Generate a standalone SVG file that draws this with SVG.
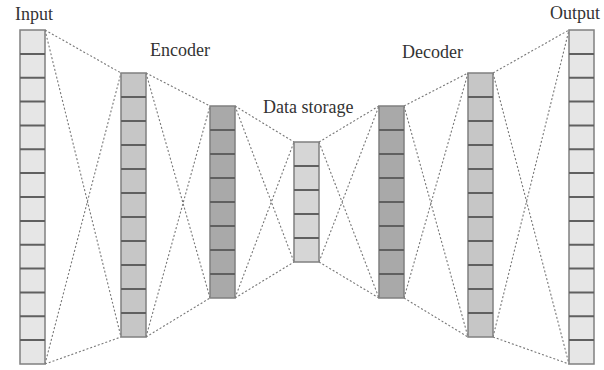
<svg xmlns="http://www.w3.org/2000/svg" width="604" height="370" viewBox="0 0 604 370">
<style>
.lbl{font-family:"Liberation Serif","Times New Roman",serif;font-size:18px;fill:#333}
.col{stroke:#808080;stroke-width:1.5}
.sep{stroke:#606060;stroke-width:2}
.c1{fill:#e6e6e6}.c2{fill:#c6c6c6}.c3{fill:#a9a9a9}.c4{fill:#d6d6d6}
.dash{stroke:#777;stroke-width:1.1;stroke-dasharray:2 2;fill:none}
</style>
<rect width="604" height="370" fill="#fff"/>
<g id="connectors" class="dash">
<path d="M45,30L121,73M45,30L121,337M45,364L121,73M45,364L121,337"/>
<path d="M146,73L210,106M146,73L210,298M146,337L210,106M146,337L210,298"/>
<path d="M235,106L294,142M235,106L294,262M235,298L294,142M235,298L294,262"/>
<path d="M319,142L379,106M319,142L379,298M319,262L379,106M319,262L379,298"/>
<path d="M404,106L468,73M404,106L468,337M404,298L468,73M404,298L468,337"/>
<path d="M493,73L569,30M493,73L569,364M493,337L569,30M493,337L569,364"/>
</g>
<g id="input">
<rect class="col c1" x="20" y="30" width="25" height="334"/>
<path class="sep" d="M20,53.9H45M20,77.7H45M20,101.6H45M20,125.4H45M20,149.3H45M20,173.1H45M20,197H45M20,220.9H45M20,244.7H45M20,268.6H45M20,292.4H45M20,316.3H45M20,340.1H45"/>
<text class="lbl" x="15" y="20">Input</text>
</g>
<g id="encoder1">
<rect class="col c2" x="121" y="73" width="25" height="264"/>
<path class="sep" d="M121,97H146M121,121H146M121,145H146M121,169H146M121,193H146M121,217H146M121,241H146M121,265H146M121,289H146M121,313H146"/>
<text class="lbl" x="150" y="56">Encoder</text>
</g>
<g id="encoder2">
<rect class="col c3" x="210" y="106" width="25" height="192"/>
<path class="sep" d="M210,130H235M210,154H235M210,178H235M210,202H235M210,226H235M210,250H235M210,274H235"/>
</g>
<g id="storage">
<rect class="col c4" x="294" y="142" width="25" height="120"/>
<path class="sep" d="M294,166H319M294,190H319M294,214H319M294,238H319"/>
<text class="lbl" x="263" y="113">Data storage</text>
</g>
<g id="decoder1">
<rect class="col c3" x="379" y="106" width="25" height="192"/>
<path class="sep" d="M379,130H404M379,154H404M379,178H404M379,202H404M379,226H404M379,250H404M379,274H404"/>
</g>
<g id="decoder2">
<rect class="col c2" x="468" y="73" width="25" height="264"/>
<path class="sep" d="M468,97H493M468,121H493M468,145H493M468,169H493M468,193H493M468,217H493M468,241H493M468,265H493M468,289H493M468,313H493"/>
<text class="lbl" x="402" y="58">Decoder</text>
</g>
<g id="output">
<rect class="col c1" x="569" y="30" width="25" height="334"/>
<path class="sep" d="M569,53.9H594M569,77.7H594M569,101.6H594M569,125.4H594M569,149.3H594M569,173.1H594M569,197H594M569,220.9H594M569,244.7H594M569,268.6H594M569,292.4H594M569,316.3H594M569,340.1H594"/>
<text class="lbl" x="550" y="19">Output</text>
</g>
</svg>
